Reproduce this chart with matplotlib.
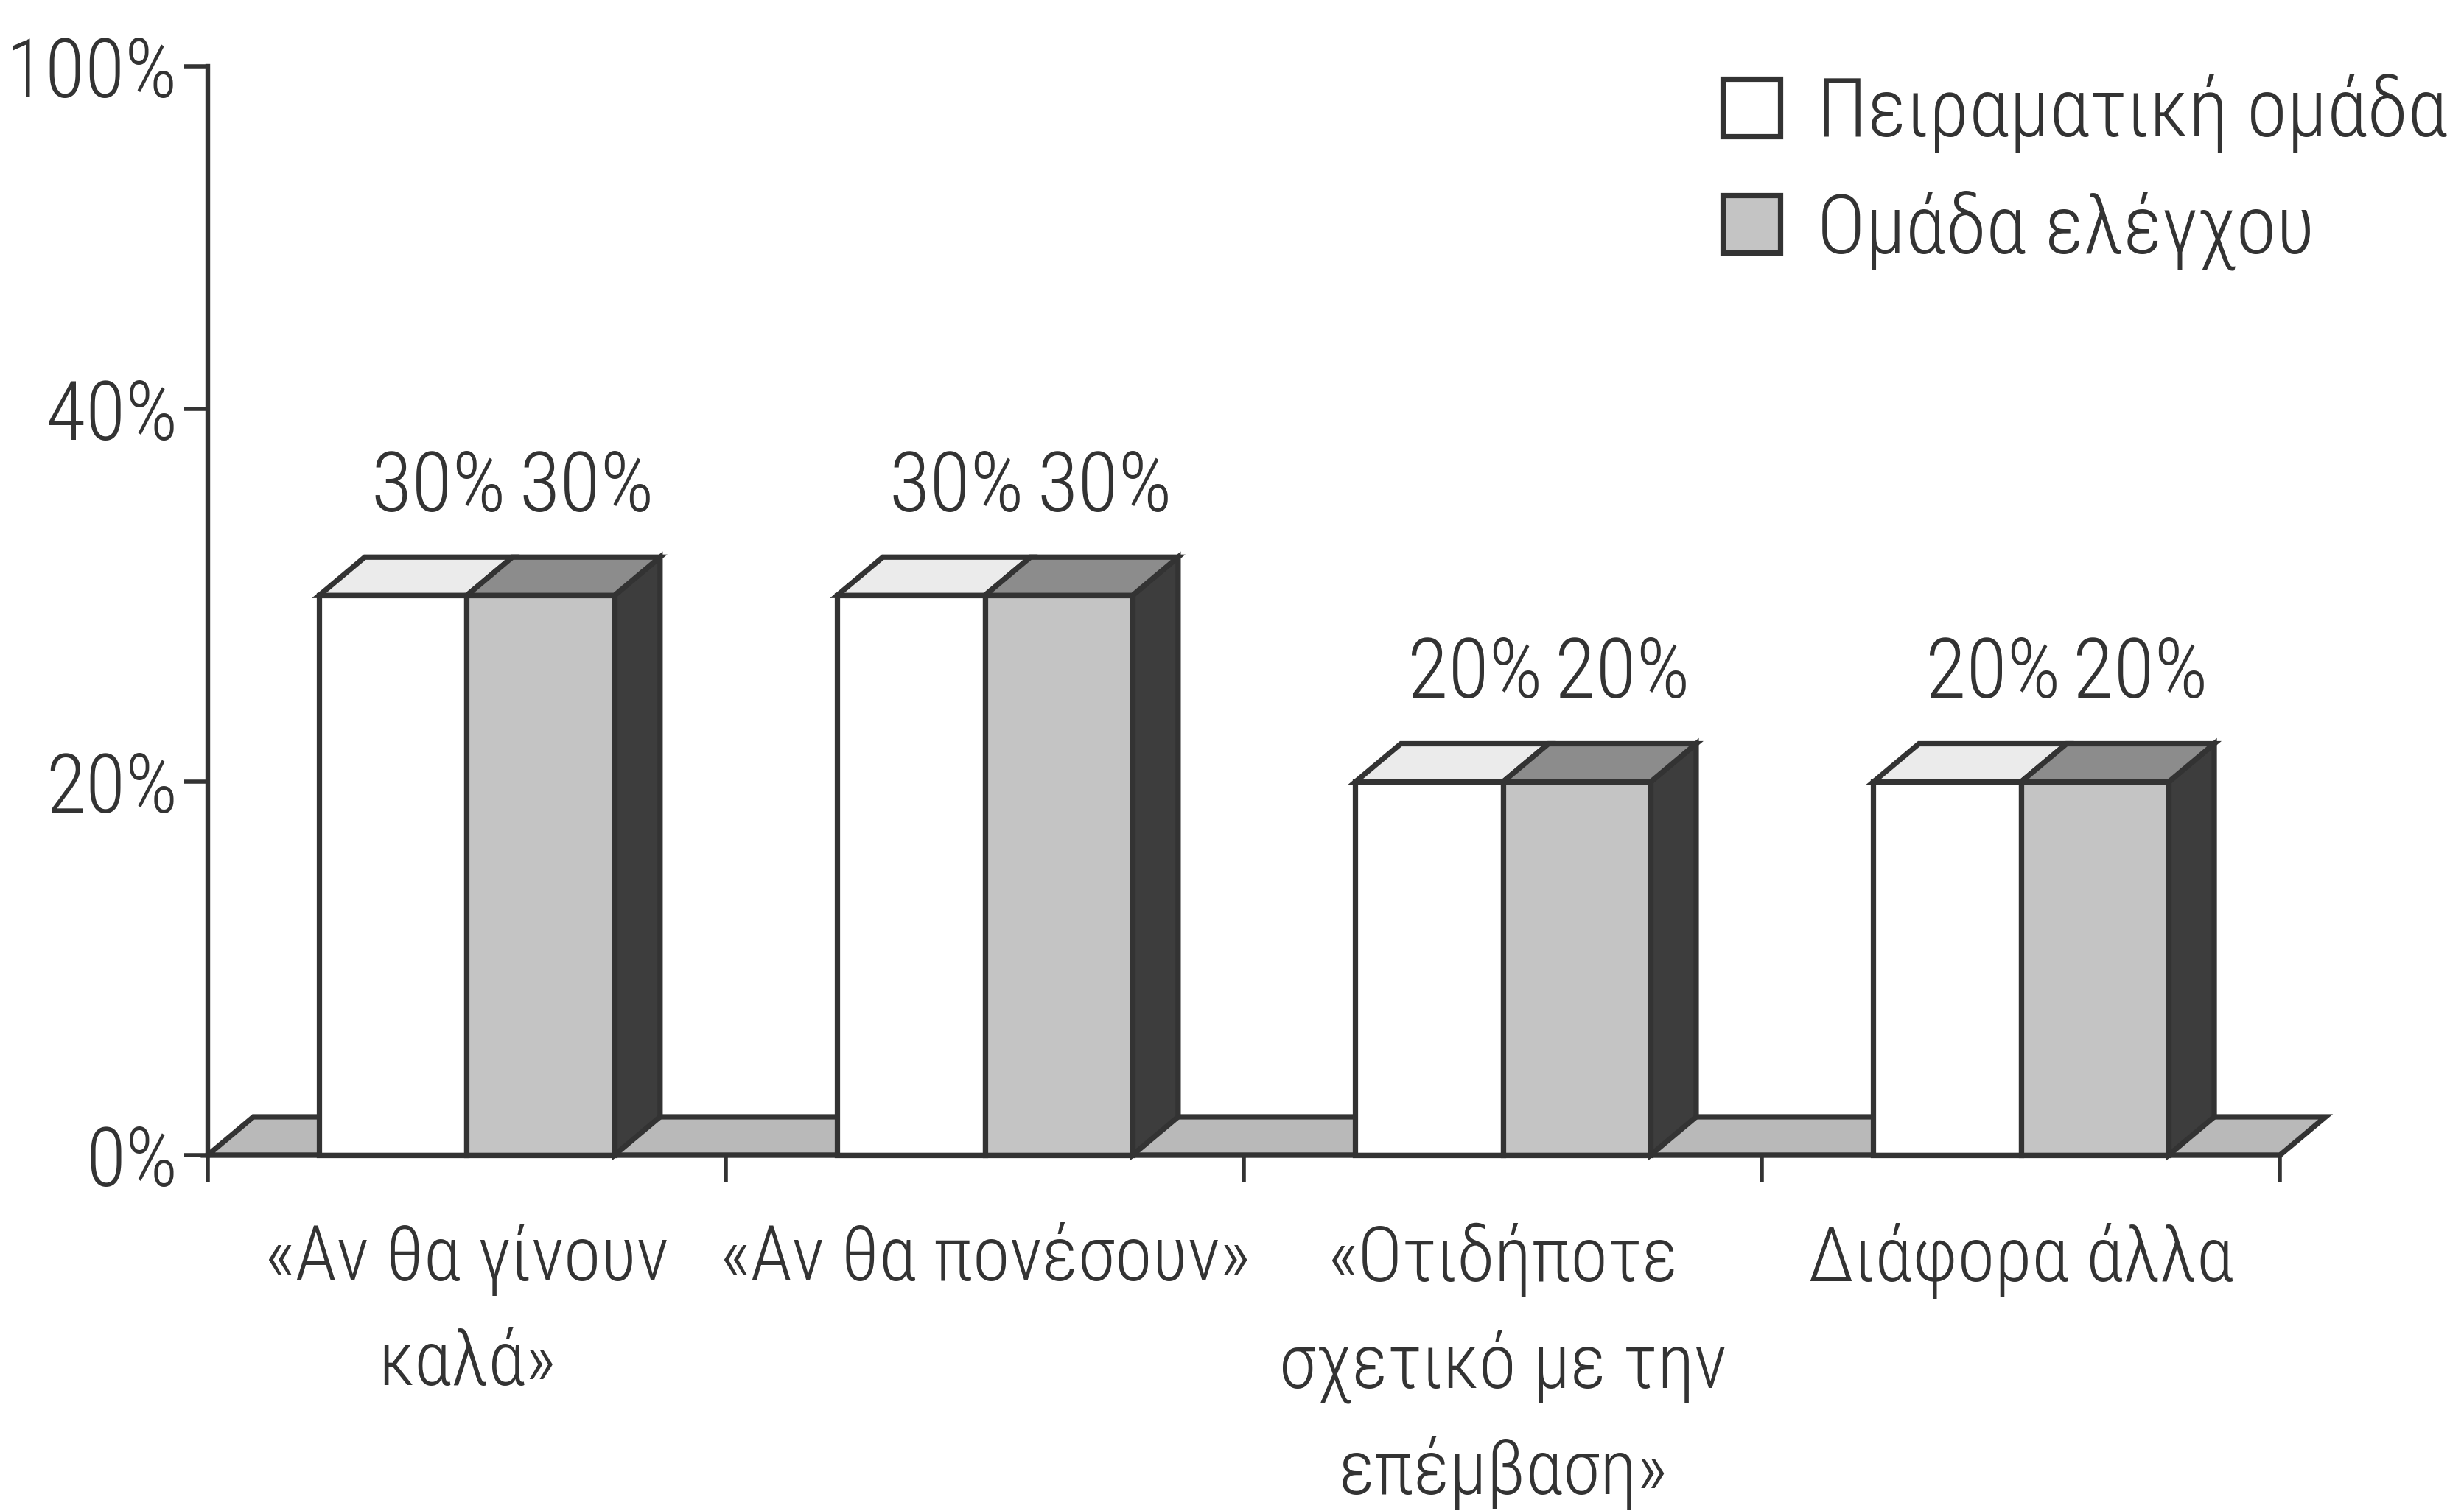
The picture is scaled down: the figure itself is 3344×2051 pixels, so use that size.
import numpy as np
import matplotlib
matplotlib.use('Agg')
import matplotlib.pyplot as plt
from matplotlib.patches import Polygon, Patch

plt.rcParams['font.family'] = ['Roboto Condensed', 'Liberation Sans Narrow', 'DejaVu Sans']
plt.rcParams['font.stretch'] = 'condensed'
plt.rcParams['font.weight'] = 'light'

categories = ['«Αν θα γίνουν\nκαλά»', '«Αν θα πονέσουν»',
              '«Οτιδήποτε\nσχετικό με την\nεπέμβαση»', 'Διάφορα άλλα']
experimental = [30, 30, 20, 20]
control = [30, 30, 20, 20]
series_names = ['Πειραματική ομάδα', 'Ομάδα ελέγχου']
y_ticks = [0, 20, 40, 100]
y_tick_labels = ['0%', '20%', '40%', '100%']

INK = '#333333'
WHITE_FRONT, WHITE_TOP = '#ffffff', '#ebebeb'
GRAY_FRONT, GRAY_TOP = '#c4c4c4', '#8c8c8c'
SIDE = '#3d3d3d'
FLOOR = '#b9b9b9'
DX, DY = 62, 52          # depth of the 3d effect, in pixels
BAR_W = 0.285
LW = 5.2


# the axis is squeezed above 40%
def fwd(v):
    v = np.asarray(v, dtype=float)
    return np.where(v <= 40, v, 40 + (v - 40) * 0.306)


def inv(u):
    u = np.asarray(u, dtype=float)
    return np.where(u <= 40, u, 40 + (u - 40) / 0.306)


fig = plt.figure(figsize=(33.44, 20.51), dpi=100)
ax = fig.add_axes([0.0843, 0.2355, 0.8410, 0.7206])
ax.set_yscale('function', functions=(fwd, inv))
ax.set_xlim(0, len(categories))
ax.set_ylim(0, 100)


def back(x, y):
    # point pushed into the depth of the chart
    px, py = ax.transData.transform((x, y))
    return ax.transData.inverted().transform((px + DX, py + DY))


def face(points, color):
    ax.add_patch(Polygon(points, closed=True, facecolor=color, edgecolor=INK,
                         linewidth=LW, joinstyle='miter', clip_on=False, zorder=2))


# floor
n = len(categories)
face([(0, 0), (n, 0), back(n, 0), back(0, 0)], FLOOR)

centers = np.arange(n) + 0.5
for c, e, k in zip(centers, experimental, control):
    xl, xm, xr = c - BAR_W, c, c + BAR_W
    face([(xr, 0), (xr, k), back(xr, k), back(xr, 0)], SIDE)
    face([(xl, e), (xm, e), back(xm, e), back(xl, e)], WHITE_TOP)
    face([(xm, k), (xr, k), back(xr, k), back(xm, k)], GRAY_TOP)

ax.bar(centers - BAR_W, experimental, width=BAR_W, align='edge', color=WHITE_FRONT,
       edgecolor=INK, linewidth=LW, zorder=3, clip_on=False)
ax.bar(centers, control, width=BAR_W, align='edge', color=GRAY_FRONT,
       edgecolor=INK, linewidth=LW, zorder=3, clip_on=False)

# value labels sit above the back edge of each top face
for c, e, k in zip(centers, experimental, control):
    for x, v in ((c - BAR_W / 2, e), (c + BAR_W / 2, k)):
        ax.annotate(f'{v}%', xy=(x, v), xytext=(DX, 114), textcoords='offset pixels',
                    ha='center', va='baseline', fontsize=82, color=INK)

for side in ('top', 'right'):
    ax.spines[side].set_visible(False)
for side in ('left', 'bottom'):
    ax.spines[side].set_linewidth(4.6)
    ax.spines[side].set_color(INK)
    ax.spines[side].set_zorder(4)

ax.set_yticks(y_ticks, y_tick_labels)
ax.yaxis.set_minor_locator(matplotlib.ticker.NullLocator())
ax.tick_params(axis='y', direction='out', length=23, width=4, color=INK,
               pad=6, labelsize=80, labelcolor=INK)

ax.set_xticks(np.arange(n + 1), [''] * (n + 1))
ax.set_xticks(centers, categories, minor=True)
ax.tick_params(axis='x', which='major', direction='out', length=26, width=4, color=INK)
ax.tick_params(axis='x', which='minor', length=0, pad=66, labelsize=74, labelcolor=INK)
for lab in ax.get_xticklabels(minor=True):
    lab.set_linespacing(1.56)

handles = [Patch(facecolor=WHITE_FRONT, edgecolor=INK, linewidth=LW),
           Patch(facecolor=GRAY_FRONT, edgecolor=INK, linewidth=LW)]
fig.legend(handles, series_names, loc='upper right', bbox_to_anchor=(1.0, 0.962),
           frameon=False, fontsize=80, labelcolor=INK, handlelength=0.7,
           handleheight=0.7, handletextpad=0.45, labelspacing=0.45,
           borderaxespad=0, borderpad=0.2)

fig.savefig('out.png', dpi=100)
